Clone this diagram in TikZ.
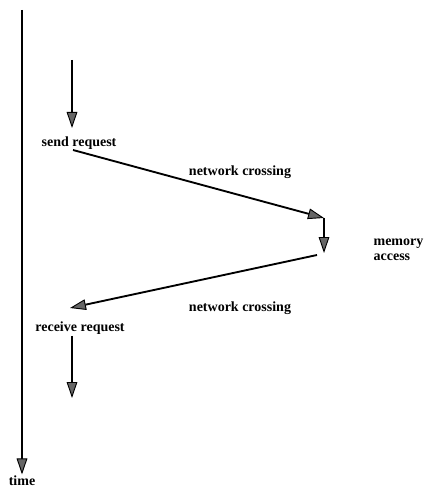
\documentclass[tikz,border=0pt]{standalone}
\usepackage{fontspec}
\setmainfont{Liberation Serif}
\usetikzlibrary{arrows.meta}

\tikzset{
    flow/.style={line width=1.4pt, -{Triangle[length=12pt,width=8pt,fill=gray!80!black,line width=0.7pt]}},
    lbl/.style={font=\bfseries\fontsize{10.5}{11}\selectfont, inner sep=1pt}
}

\begin{document}
\begin{tikzpicture}[x=0.75pt, y=-0.75pt]
    \useasboundingbox (0,0) rectangle (427,491);

    % time axis
    \coordinate (tstart) at (22,10);
    \node[lbl] (time) at (22,481) {time};
    \draw[flow] (tstart) -- (time.north);

    % sending side
    \coordinate (sendtop) at (72,60);
    \node[lbl] (send) at (79,143) {send request};
    \coordinate (sendfrom) at (73,150);
    \draw[flow] (sendtop) -- (72,128);

    % remote memory
    \coordinate (memin) at (324,218);
    \coordinate (memout) at (324,253);
    \node[lbl, anchor=west, align=left] (mem) at (372,250) {memory\\access};
    \draw[flow] (sendfrom) -- (memin);
    \node[lbl] (cross1) at (240,172) {network crossing};
    \draw[flow] (memin) -- (memout);

    % reply
    \coordinate (replyfrom) at (317,255);
    \coordinate (replyto) at (70,308);
    \draw[flow] (replyfrom) -- (replyto);
    \node[lbl] (cross2) at (240,308) {network crossing};

    % receiving side
    \node[lbl] (recv) at (80,328) {receive request};
    \coordinate (recvend) at (72,398);
    \draw[flow] (recv.south -| recvend) -- (recvend);
\end{tikzpicture}
\end{document}
